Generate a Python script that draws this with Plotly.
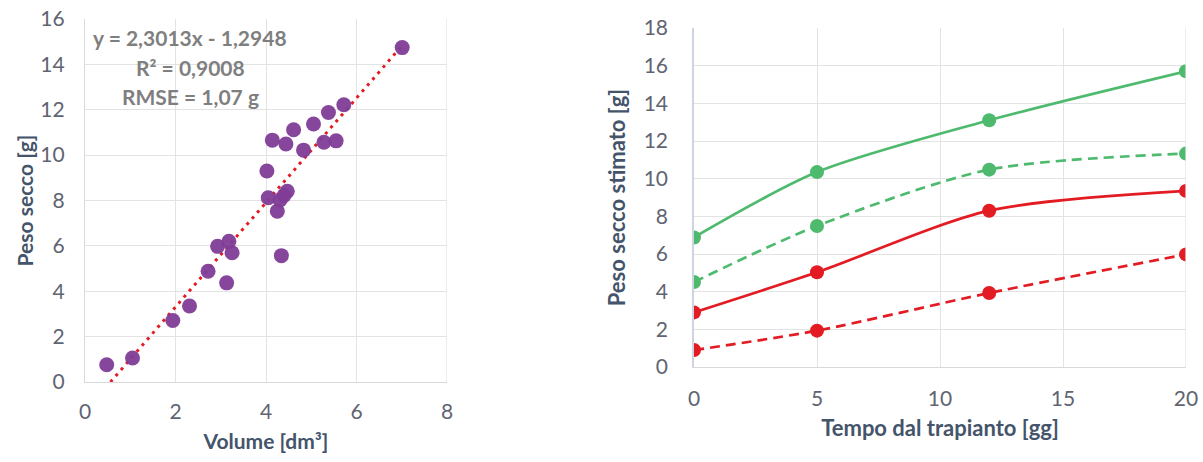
import plotly.graph_objects as go

# ---- Left chart data: Volume vs Peso secco ----
volume = [0.48, 1.05, 1.94, 2.31, 2.72, 2.93, 3.18, 3.25, 3.13, 4.02, 4.05, 4.14,
          4.25, 4.34, 4.44, 4.47, 4.31, 4.40, 4.61, 4.83, 5.05, 5.28, 5.38, 5.55,
          5.72, 7.01]
peso = [0.76, 1.06, 2.71, 3.35, 4.88, 5.98, 6.20, 5.70, 4.37, 9.30, 8.12, 10.66,
        7.53, 5.57, 10.49, 8.41, 8.02, 8.22, 11.12, 10.22, 11.37, 10.57, 11.88, 10.63,
        12.22, 14.74]
slope = 2.3013
intercept = -1.2948
trend_x = [-intercept / slope, 7.0]
eq_lines = ["y = 2,3013x - 1,2948", "R² = 0,9008", "RMSE = 1,07 g"]

# ---- Right chart data ----
tempo = [0, 5, 12, 20]
green_solid = [6.88, 10.35, 13.10, 15.70]
green_dash = [4.51, 7.49, 10.48, 11.33]
red_solid = [2.90, 5.03, 8.30, 9.35]
red_dash = [0.90, 1.93, 3.93, 5.98]

PURPLE = "#7F3C96"
GREEN = "#4DBA6E"
RED = "#E31B23"
GRID = "#E3E3E3"
TICK = "#5F6472"
TITLE = "#44546A"
FONT = "Lato"

fig = go.Figure()

fig.add_trace(go.Scatter(
    x=trend_x, y=[slope * v + intercept for v in trend_x],
    mode="lines", line=dict(color=RED, width=3, dash="3px,5px"),
    xaxis="x", yaxis="y", showlegend=False, hoverinfo="skip"))
fig.add_trace(go.Scatter(
    x=volume, y=peso, mode="markers",
    marker=dict(color=PURPLE, size=15, opacity=0.95),
    xaxis="x", yaxis="y", showlegend=False))

series = [(green_solid, GREEN, "solid"), (green_dash, GREEN, "10px,6px"),
          (red_solid, RED, "solid"), (red_dash, RED, "10px,6px")]
for ys, col, dash in series:
    fig.add_trace(go.Scatter(
        x=tempo, y=ys, mode="lines+markers",
        line=dict(color=col, width=2.7, dash=dash, shape="spline", smoothing=0.8),
        marker=dict(color=col, size=14),
        xaxis="x2", yaxis="y2", showlegend=False))

tickfont = dict(family=FONT, size=21, color=TICK)
titlefont = dict(family=FONT, size=21, color=TITLE, weight="bold")
titlefont2 = dict(family=FONT, size=22, color=TITLE, weight="bold")

W, H = 1203, 462


def dx(px):
    return px / W


def dy(py):
    return 1 - py / H


common = dict(showgrid=True, gridcolor=GRID, gridwidth=1.3, zeroline=False,
              ticks="", automargin=False, tickfont=tickfont,
              ticklabeloverflow="allow")
fig.update_layout(
    width=W, height=H, margin=dict(l=0, r=0, t=0, b=0),
    paper_bgcolor="white", plot_bgcolor="white",
    font=dict(family=FONT),
    xaxis=dict(domain=[dx(85), dx(447)], range=[0, 8], dtick=2,
               showline=True, linecolor="#D9D9D9", linewidth=1.3,
               ticklabelstandoff=11,
               title=dict(text="Volume [dm³]", font=titlefont, standoff=11),
               anchor="y", **common),
    yaxis=dict(domain=[dy(382), dy(19)], range=[0, 16], dtick=2,
               showline=True, linecolor="#D9D9D9", linewidth=1.3,
               ticklabelstandoff=15,
               title=dict(text="Peso secco [g]", font=titlefont, standoff=0),
               anchor="x", **common),
    xaxis2=dict(domain=[dx(694), dx(1186)], range=[0, 20], dtick=5,
                showline=True, linecolor="#D9D9D9", linewidth=1.3,
                ticklabelstandoff=13,
                title=dict(text="Tempo dal trapianto [gg]", font=titlefont2, standoff=11),
                anchor="y2", **common),
    yaxis2=dict(domain=[dy(367), dy(28)], range=[0, 18], dtick=2,
                showline=True, linecolor="#CED4E2", linewidth=1.5,
                ticklabelstandoff=20,
                title=dict(text="Peso secco stimato [g]", font=titlefont2, standoff=12),
                anchor="x2", **common),
)

# top/right frame gridlines
fig.add_shape(type="line", xref="x", yref="y", x0=8, x1=8, y0=0, y1=16,
              line=dict(color=GRID, width=1.3))
fig.add_shape(type="line", xref="x2", yref="y2", x0=20, x1=20, y0=0, y1=18,
              line=dict(color=GRID, width=1.3))

for i, txt in enumerate(eq_lines):
    fig.add_annotation(text=txt, xref="paper", yref="paper",
                       x=dx(190), y=dy(38 + 29 * i),
                       xanchor="center", yanchor="middle", showarrow=False,
                       font=dict(family=FONT, size=21, color="#7F7F7F", weight="bold"))

fig.write_html("out.html",
               config={"displayModeBar": False},
               post_script="document.body.style.margin='0';"
                           "document.body.style.overflow='hidden';")
